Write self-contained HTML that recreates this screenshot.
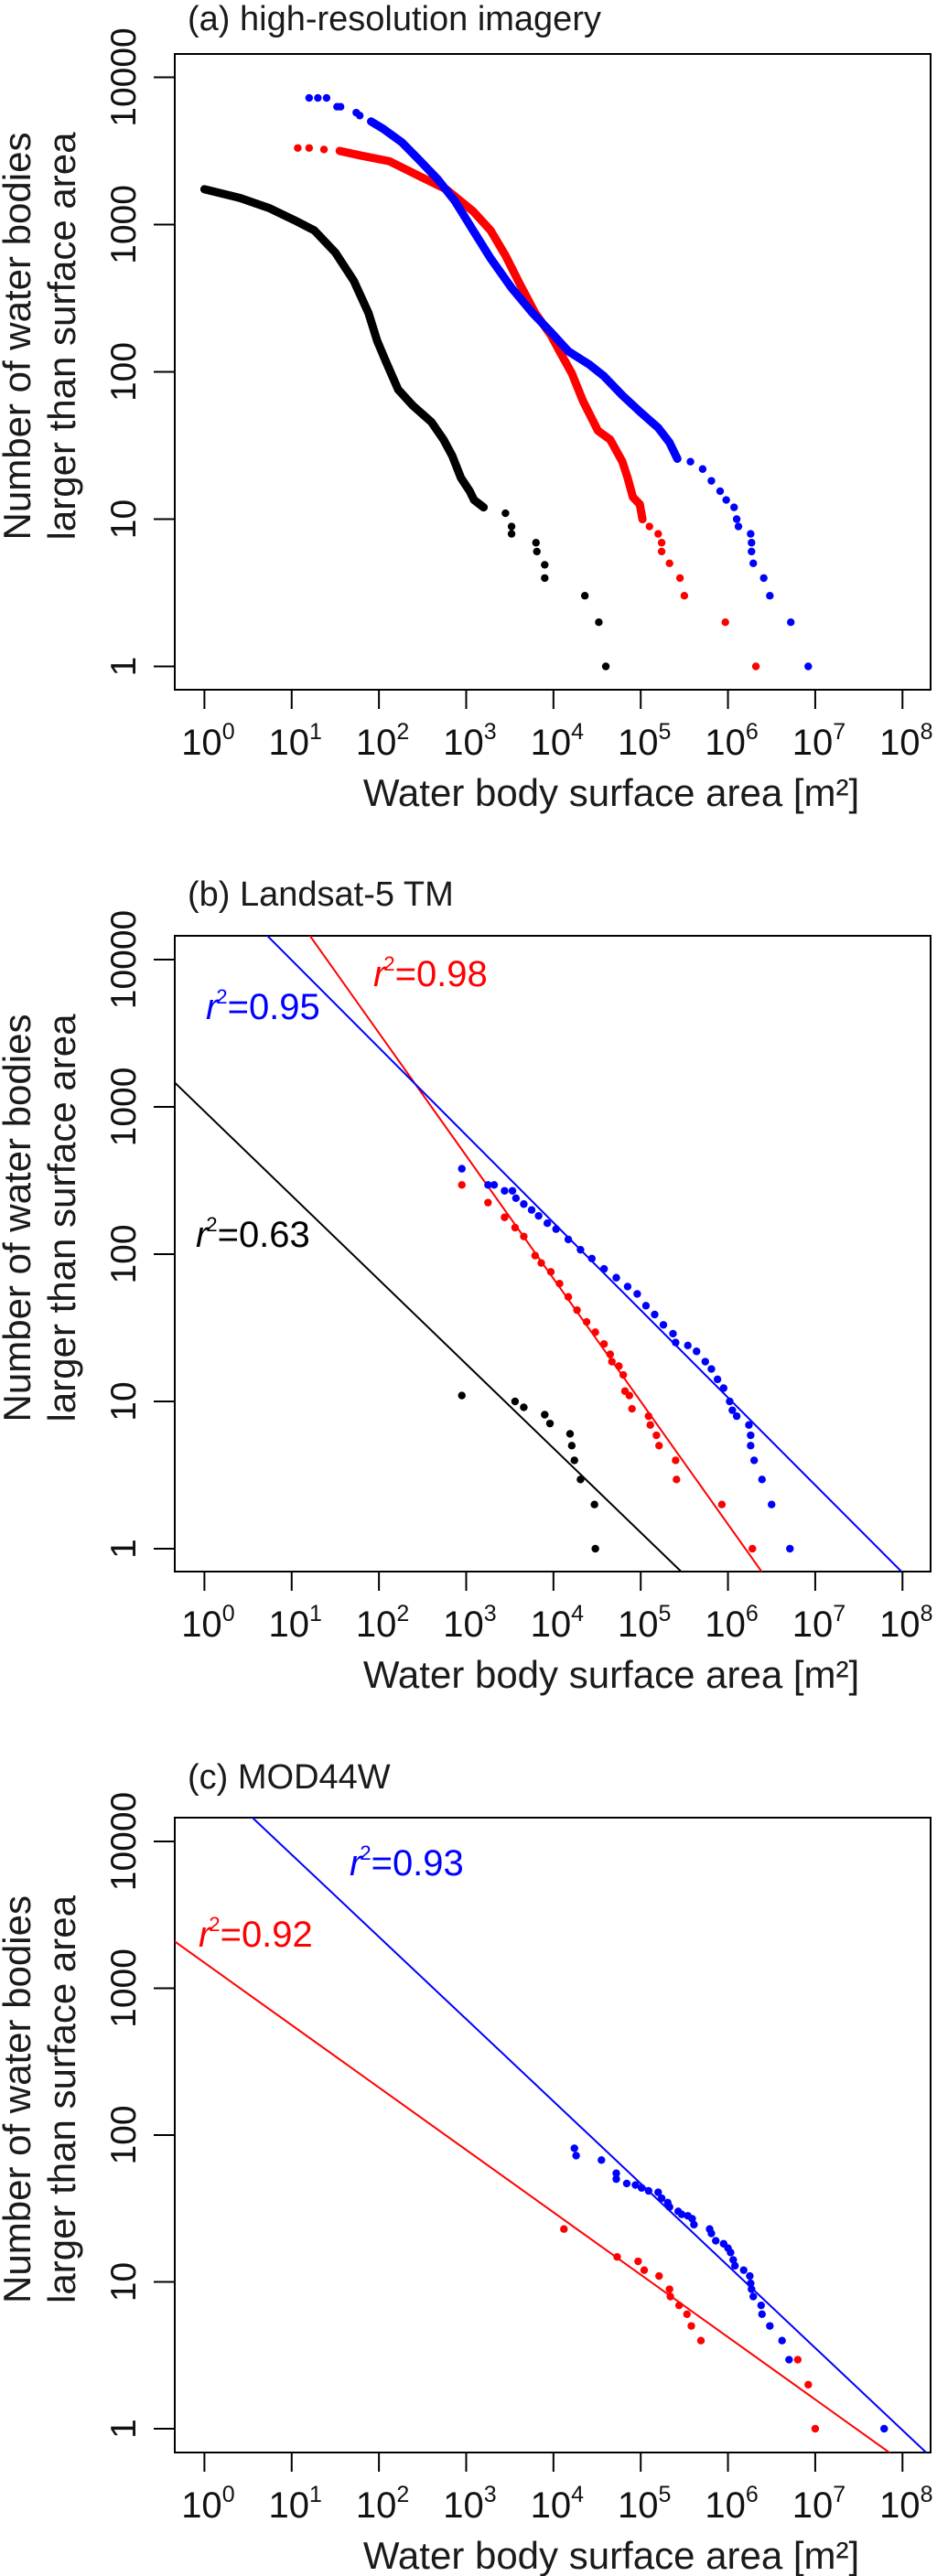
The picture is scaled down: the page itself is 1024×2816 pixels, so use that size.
<!DOCTYPE html>
<html><head><meta charset="utf-8"><title>Water body size distributions</title>
<style>
html,body{margin:0;padding:0;background:#fff;}
svg{display:block;font-family:"Liberation Sans",Arial,sans-serif;}
</style></head>
<body>
<svg id="fig" width="1024" height="2816" viewBox="0 0 1024 2816" xmlns="http://www.w3.org/2000/svg"></svg>
<script>
// ---- data (log10 of area in m², log10 of count) ----
// Panel (a) high-resolution imagery
const aBlackLogArea = [0,0.41,0.75,1.03,1.26,1.50,1.71,1.88,1.98,2.08,2.22,2.39,2.60,2.74,2.84,2.94,3.04,3.09,3.20,3.45,3.52,3.52,3.80,3.81,3.90,3.90,4.36,4.52,4.60];
const aBlackLogCount = [3.24,3.18,3.11,3.03,2.96,2.81,2.62,2.40,2.21,2.07,1.88,1.77,1.66,1.54,1.43,1.28,1.19,1.13,1.08,1.04,0.95,0.90,0.84,0.78,0.69,0.60,0.48,0.30,0];
const aBlackDense = 18;
const aRedLogArea = [1.07,1.20,1.37,1.55,1.78,2.12,2.46,2.77,3.08,3.28,3.45,3.62,3.79,3.97,4.07,4.21,4.34,4.51,4.65,4.79,4.85,4.91,4.99,5.02,5.10,5.20,5.24,5.24,5.33,5.45,5.50,5.97,6.32];
const aRedLogCount = [3.52,3.52,3.51,3.50,3.47,3.43,3.33,3.24,3.09,2.96,2.79,2.59,2.40,2.25,2.14,1.99,1.80,1.60,1.54,1.39,1.28,1.15,1.10,1.00,0.95,0.90,0.84,0.78,0.70,0.60,0.48,0.30,0];
const aRedDense = [3,23];
const aBlueLogArea = [1.20,1.30,1.40,1.52,1.56,1.74,1.78,1.91,2.05,2.26,2.46,2.67,2.87,3.08,3.28,3.52,3.76,3.97,4.17,4.41,4.58,4.79,4.99,5.20,5.33,5.42,5.57,5.71,5.81,5.91,5.98,6.07,6.10,6.12,6.26,6.27,6.27,6.29,6.41,6.48,6.72,6.92];
const aBlueLogCount = [3.86,3.86,3.86,3.80,3.80,3.76,3.74,3.70,3.65,3.56,3.44,3.31,3.16,2.96,2.77,2.57,2.40,2.27,2.14,2.05,1.97,1.84,1.73,1.62,1.52,1.41,1.39,1.34,1.26,1.19,1.13,1.08,1.00,0.95,0.90,0.84,0.78,0.70,0.60,0.48,0.30,0];
const aBlueDense = [7,25];

// Panel (b) Landsat-5 TM
const bBlackLogArea = [2.95,3.56,3.66,3.90,3.96,4.19,4.21,4.24,4.31,4.47,4.48];
const bBlackLogCount = [1.04,1.00,0.96,0.91,0.85,0.78,0.70,0.60,0.47,0.30,0];
const bRedLogArea = [2.95,3.25,3.44,3.56,3.66,3.79,3.86,3.97,4.07,4.17,4.27,4.38,4.48,4.58,4.65,4.67,4.75,4.80,4.82,4.87,4.90,5.09,5.11,5.18,5.21,5.40,5.41,5.93,6.28];
const bRedLogCount = [2.47,2.35,2.25,2.18,2.12,1.99,1.94,1.88,1.80,1.71,1.62,1.54,1.47,1.39,1.32,1.27,1.24,1.18,1.07,1.04,0.95,0.90,0.84,0.77,0.70,0.60,0.47,0.30,0];
const bBlueLogArea = [2.95,3.25,3.32,3.44,3.53,3.57,3.66,3.75,3.83,3.93,4.03,4.17,4.31,4.44,4.58,4.72,4.85,4.96,5.06,5.16,5.26,5.37,5.40,5.54,5.64,5.74,5.81,5.88,5.95,6.02,6.05,6.10,6.24,6.26,6.26,6.30,6.39,6.50,6.71];
const bBlueLogCount = [2.58,2.47,2.47,2.43,2.43,2.38,2.34,2.30,2.26,2.21,2.17,2.10,2.03,1.97,1.90,1.84,1.78,1.73,1.65,1.59,1.52,1.46,1.40,1.38,1.34,1.27,1.22,1.15,1.09,1.00,0.94,0.90,0.84,0.77,0.70,0.60,0.47,0.30,0];
const bFitSlope = [-0.572,-0.834,-0.594];
const bFitIntercept = [2.97,5.17,4.59];
const bR2 = ["0.63","0.98","0.95"];

// Panel (c) MOD44W
const cRedLogArea = [4.12,4.73,4.97,5.04,5.21,5.33,5.34,5.44,5.53,5.58,5.69,6.80,6.92,7.00];
const cRedLogCount = [1.36,1.17,1.14,1.08,1.04,0.95,0.90,0.84,0.78,0.70,0.60,0.47,0.30,0];
const cBlueLogArea = [4.24,4.26,4.55,4.72,4.72,4.84,4.94,5.01,5.09,5.20,5.24,5.31,5.33,5.43,5.47,5.54,5.59,5.61,5.79,5.81,5.86,5.95,6.00,6.03,6.06,6.08,6.18,6.25,6.26,6.27,6.29,6.38,6.39,6.48,6.62,6.70,7.79];
const cBlueLogCount = [1.91,1.86,1.83,1.74,1.70,1.67,1.66,1.64,1.62,1.61,1.57,1.54,1.51,1.48,1.46,1.45,1.43,1.39,1.36,1.33,1.28,1.26,1.23,1.20,1.15,1.11,1.08,1.04,0.99,0.95,0.90,0.84,0.78,0.70,0.60,0.47,0];
const cFitSlope = [-0.425,-0.560];
const cFitIntercept = [3.174,4.47];
const cR2 = ["0.92","0.93"];

const xTickExp = [0,1,2,3,4,5,6,7,8];
const yTickLabels = ["1","10","100","1000","10000"];

// ---- rendering ----
const NS = "http://www.w3.org/2000/svg";
const svg = document.getElementById('fig');
const BOX_L = 191, BOX_R = 1017;
function xPos(l){ return 223.4 + 95.36*l; }
function mk(tag, attrs, parent){
  const e = document.createElementNS(NS, tag);
  for (const k in attrs) e.setAttribute(k, attrs[k]);
  (parent||svg).appendChild(e);
  return e;
}
const COLORS = {black:'#000000', red:'#ff0000', blue:'#0000ff'};

function panel(id, cfg){
  const g = mk('g', {});
  
  
  const yPos = l => cfg.y1 - cfg.dec*l;
  const cp = mk('clipPath', {id:'clip-'+id}, g);
  mk('rect', {x:BOX_L, y:cfg.top, width:BOX_R-BOX_L, height:cfg.bottom-cfg.top}, cp);
  const t = mk('text', {x:205, y:cfg.titleY, 'font-size':38, fill:'#1a1a1a'}, g);
  t.textContent = cfg.title;
  
  
  const box = mk('rect', {x:BOX_L, y:cfg.top, width:BOX_R-BOX_L, height:cfg.bottom-cfg.top, fill:'none', stroke:'#000', 'stroke-width':2}, g);
  
  
  const xa = mk('g', {}, g);
  
  
  mk('line', {x1:xPos(xTickExp[0]), x2:xPos(xTickExp[xTickExp.length-1]), y1:cfg.bottom, y2:cfg.bottom, stroke:'#000','stroke-width':2}, xa);
  xTickExp.forEach(e => {
    const x = xPos(e);
    mk('line', {x1:x, x2:x, y1:cfg.bottom, y2:cfg.bottom+21, stroke:'#000', 'stroke-width':2}, xa);
    const tl = mk('text', {x:x+4, y:cfg.bottom+71, 'font-size':40, 'text-anchor':'middle', fill:'#111'}, xa);
    
    
    tl.appendChild(document.createTextNode('10'));
    const sp = mk('tspan', {'font-size':25, dy:-17}, tl);
    sp.textContent = String(e);
  });
  const xl = mk('text', {x:668, y:cfg.bottom+127, 'font-size':42, 'text-anchor':'middle', fill:'#1a1a1a'}, g);
  xl.textContent = 'Water body surface area [m²]';
  
  
  const ya = mk('g', {}, g);
  
  
  mk('line', {x1:BOX_L, x2:BOX_L, y1:yPos(0), y2:yPos(4), stroke:'#000', 'stroke-width':2}, ya);
  yTickLabels.forEach((lab, i) => {
    const y = yPos(i);
    mk('line', {x1:BOX_L-23, x2:BOX_L, y1:y, y2:y, stroke:'#000', 'stroke-width':2}, ya);
    const tl = mk('text', {x:0, y:0, 'font-size':39, 'text-anchor':'middle', fill:'#111', transform:`translate(148,${y}) rotate(-90)`}, ya);
    tl.textContent = lab;
    
    
  });
  const yc = (cfg.top+cfg.bottom)/2 - 39;
  const yl = mk('text', {x:0, y:0, 'font-size':42, 'text-anchor':'middle', fill:'#1a1a1a', transform:`translate(0,${yc}) rotate(-90)`}, g);
  
  
  const s1 = mk('tspan', {x:0, y:33}, yl); s1.textContent = 'Number of water bodies';
  const s2 = mk('tspan', {x:0, y:82}, yl); s2.textContent = 'larger than surface area';
  const pg = mk('g', {'clip-path':`url(#clip-${id})`}, g);
  (cfg.fits||[]).forEach(f => {
    const l0 = -1, l1 = 9;
    const ln = mk('line', {x1:xPos(l0), y1:yPos(f.b + f.m*l0), x2:xPos(l1), y2:yPos(f.b + f.m*l1), stroke:COLORS[f.color], 'stroke-width':2}, pg);
    
    
  });
  cfg.series.forEach(s => {
    const sg = mk('g', {fill:COLORS[s.color]}, pg);
    
    
    if (s.dense){
      const pts = [];
      for (let i=s.dense[0]; i<=s.dense[1]; i++) pts.push(xPos(s.xs[i])+','+yPos(s.ys[i]));
      const pl = mk('polyline', {points:pts.join(' '), fill:'none', stroke:COLORS[s.color], 'stroke-width':9, 'stroke-linejoin':'round', 'stroke-linecap':'round'}, sg);
      
      
    }
    s.xs.forEach((lx, i) => {
      const c = mk('circle', {cx:xPos(lx), cy:yPos(s.ys[i]), r:4.2}, sg);
      
      
    });
  });
  (cfg.labels||[]).forEach(lb => {
    const t2 = mk('text', {x:lb.x, y:lb.y, 'font-size':40, fill:COLORS[lb.color]}, g);
    
    
    const r = mk('tspan', {'font-style':'italic'}, t2); r.textContent = 'r';
    const sup = mk('tspan', {'font-size':22, dy:-17, dx:-2}, t2); sup.textContent = '2';
    const v = mk('tspan', {dy:17}, t2); v.textContent = '=' + lb.text;
  });
}

panel('a', {title:'(a) high-resolution imagery', titleY:33, top:59, bottom:754, y1:728.5, dec:161,
  series:[
    {color:'black', xs:aBlackLogArea, ys:aBlackLogCount, dense:[0,aBlackDense]},
    {color:'red', xs:aRedLogArea, ys:aRedLogCount, dense:aRedDense},
    {color:'blue', xs:aBlueLogArea, ys:aBlueLogCount, dense:aBlueDense}
  ]});

panel('b', {title:'(b) Landsat-5 TM', titleY:990, top:1023, bottom:1718, y1:1693, dec:161,
  fits:[
    {color:'black', m:bFitSlope[0], b:bFitIntercept[0]},
    {color:'red', m:bFitSlope[1], b:bFitIntercept[1]},
    {color:'blue', m:bFitSlope[2], b:bFitIntercept[2]}
  ],
  series:[
    {color:'black', xs:bBlackLogArea, ys:bBlackLogCount},
    {color:'red', xs:bRedLogArea, ys:bRedLogCount},
    {color:'blue', xs:bBlueLogArea, ys:bBlueLogCount}
  ],
  labels:[
    {color:'black', x:214, y:1363, text:bR2[0]},
    {color:'red', x:408, y:1078, text:bR2[1]},
    {color:'blue', x:225, y:1114, text:bR2[2]}
  ]});

panel('c', {title:'(c) MOD44W', titleY:1955, top:1987, bottom:2681, y1:2655, dec:160.5,
  fits:[
    {color:'red', m:cFitSlope[0], b:cFitIntercept[0]},
    {color:'blue', m:cFitSlope[1], b:cFitIntercept[1]}
  ],
  series:[
    {color:'red', xs:cRedLogArea, ys:cRedLogCount},
    {color:'blue', xs:cBlueLogArea, ys:cBlueLogCount}
  ],
  labels:[
    {color:'red', x:217, y:2128, text:cR2[0]},
    {color:'blue', x:382, y:2050, text:cR2[1]}
  ]});
</script>
</body></html>
